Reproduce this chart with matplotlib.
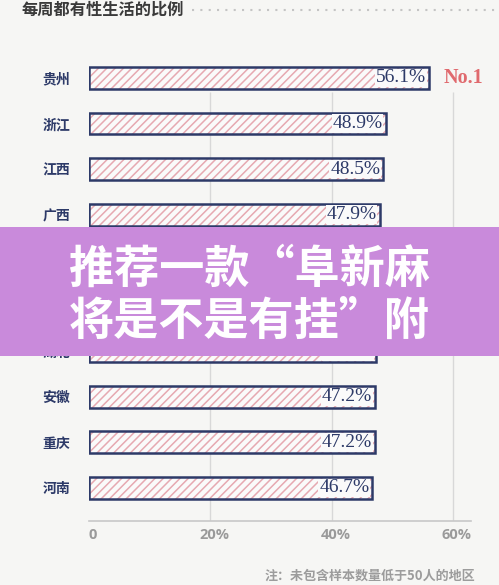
import matplotlib
matplotlib.use('Agg')
import matplotlib.pyplot as plt
import matplotlib.transforms as mtransforms
from matplotlib.lines import Line2D
from matplotlib.patches import Rectangle

plt.rcParams['font.family'] = ['Noto Sans CJK SC', 'DejaVu Sans']
plt.rcParams['hatch.linewidth'] = 1.1

# data
provinces = ['贵州', '浙江', '江西', '广西', '湖南', '四川', '湖北', '安徽', '重庆', '河南']
values = [56.1, 48.9, 48.5, 47.9, 47.7, 47.5, 47.3, 47.2, 47.2, 46.7]
x_ticks = [0, 20, 40, 60]
x_tick_labels = ['0', '20%', '40%', '60%']
title = '每周都有性生活的比例'
note = '注：未包含样本数量低于50人的地区'
banner_lines = ['推荐一款“阜新麻', '将是不是有挂”附']

navy = '#2D3A68'
pink = '#E6A9B1'
bg = '#F6F6F4'

W, H = 499, 585
fig = plt.figure(figsize=(W / 100, H / 100), dpi=100, facecolor=bg)

# axes placed in pixel terms: x 0..63 -> px 89..471, rows at 78 + 45.55*i
ax_left, ax_right = 89, 471.2
ax_top, ax_bottom = 55, 521
ax = fig.add_axes([ax_left / W, 1 - ax_bottom / H, (ax_right - ax_left) / W, (ax_bottom - ax_top) / H])
ax.set_facecolor('none')
step = 45.55
ax.set_xlim(0, 63)
ax.set_ylim((ax_bottom - 78) / step, (ax_top - 78) / step)

ypos = list(range(len(provinces)))

# grid lines
ax.vlines(x_ticks[1:], (92 - 78) / step, (ax_bottom - 78) / step, color='#D8D8D8', lw=1, zorder=0)

# bars: hatch layer then outline
ax.barh(ypos, values, height=0.48, color='#FAFAFA', edgecolor=pink, hatch='////', lw=0, zorder=2)
ax.barh(ypos, values, height=0.48, color='none', edgecolor=navy, lw=1.8, zorder=3)

off = mtransforms.ScaledTranslation(-3 / 100, 0, fig.dpi_scale_trans)
for y, v in zip(ypos, values):
    ax.text(v, y, f'{v}%', ha='right', va='center', color=navy, fontsize=14,
            family='Liberation Serif', transform=ax.transData + off, zorder=4,
            bbox=dict(facecolor='#FAFAFA', edgecolor='none', pad=0.5))

ax.text(58.5, 0, 'No.1', ha='left', va='center', color='#E06A6E', fontsize=14.5,
        family='Liberation Serif', fontweight='bold')

ax.set_yticks(ypos)
ax.set_yticklabels(provinces, fontsize=10, fontweight='bold', color=navy)
ax.set_xticks(x_ticks)
ax.set_xticklabels(x_tick_labels, fontsize=10.5, fontweight='bold', color='#9A9A9A',
                   family=['Open Sans', 'DejaVu Sans'])
ax.tick_params(length=0)
ax.tick_params(axis='y', pad=13.5)
ax.tick_params(axis='x', pad=5)
shift = mtransforms.ScaledTranslation(4 / 100, 0, fig.dpi_scale_trans)
for lab in ax.get_xticklabels():
    lab.set_transform(lab.get_transform() + shift)

for s in ['top', 'right', 'left']:
    ax.spines[s].set_visible(False)
ax.spines['bottom'].set_color('#C8C8C8')
ax.spines['bottom'].set_linewidth(1.2)

# title + dotted rule
fig.text(22 / W, 1 - 10 / H, title, ha='left', va='center', fontsize=11.7,
         fontweight='bold', color='#3A3A3A')
fig.add_artist(Line2D([192 / W, 1], [1 - 10 / H, 1 - 10 / H], color='#C4C4C4',
                      lw=1.5, linestyle=(0, (1, 3)), transform=fig.transFigure))

# footnote
fig.text(475 / W, 1 - 576 / H, note, ha='right', va='center', fontsize=9.4,
         fontweight='bold', color='#9C9C9C')

# purple banner
fig.add_artist(Rectangle((0, 1 - 356 / H), 1, (356 - 227) / H, transform=fig.transFigure,
                         facecolor='#C98ADB', edgecolor='none', zorder=10))
for txt, yc in zip(banner_lines, [270, 322]):
    fig.text(249.5 / W, 1 - yc / H, txt, ha='center', va='center', fontsize=32.5,
             fontweight='black', color='white', zorder=11)

fig.savefig('out.png', dpi=100, facecolor=bg)
